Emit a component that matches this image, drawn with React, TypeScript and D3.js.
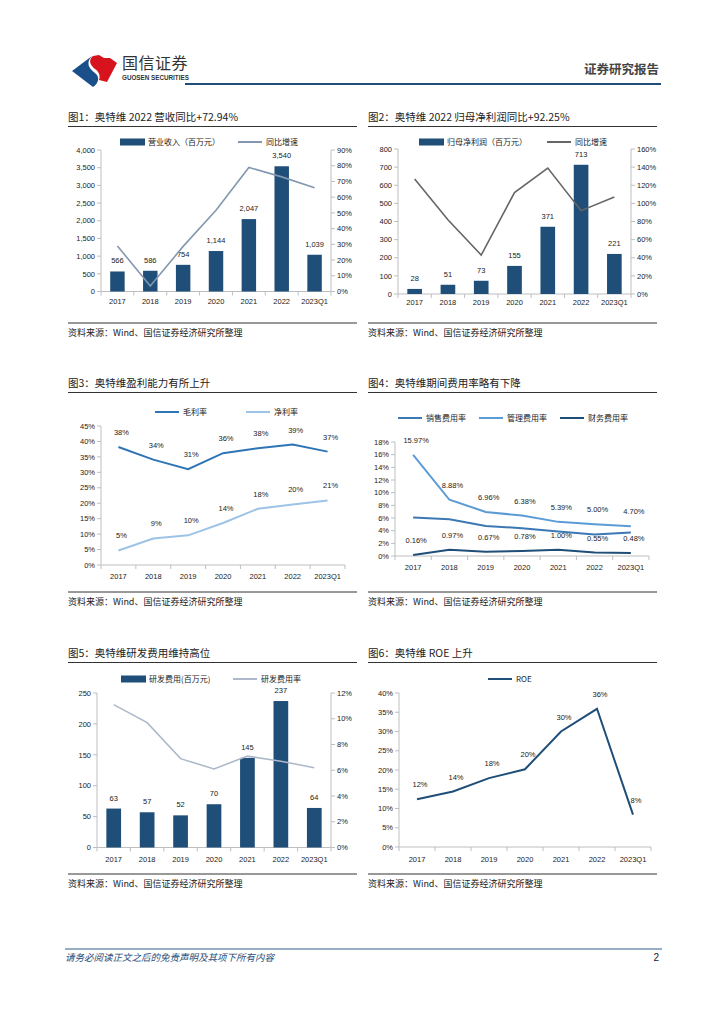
import { useEffect } from "react";
import * as d3 from "d3";

// categories and values
const years = ["2017", "2018", "2019", "2020", "2021", "2022", "2023Q1"];

const revenue = [566, 586, 754, 1144, 2047, 3540, 1039];
const revenueYoY = [29, 3.5, 28.7, 51.7, 78.9, 72.9, 66];

const netProfit = [28, 51, 73, 155, 371, 713, 221];
const netProfitYoY = [127, 82, 43, 112, 139, 92, 107];

const grossMargin = [38.2, 34.1, 31.0, 36.2, 37.8, 39.0, 36.7];
const netMargin = [4.7, 8.6, 9.6, 13.6, 18.2, 19.6, 20.9];

const salesRate = [6.07, 5.8, 4.73, 4.4, 3.87, 3.4, 3.7];
const mgmtRate = [15.97, 8.88, 6.96, 6.38, 5.39, 5.0, 4.7];
const finRate = [0.16, 0.97, 0.67, 0.78, 1.0, 0.55, 0.48];

const rdExpense = [63, 57, 52, 70, 145, 237, 64];
const rdRate = [11.1, 9.7, 6.9, 6.1, 7.1, 6.7, 6.2];

const roe = [12.4, 14.4, 17.9, 20.2, 30.0, 35.9, 8.4];

const FONT = "'Liberation Sans','Noto Sans CJK SC',sans-serif";
const CJK = "'Noto Sans CJK SC',sans-serif";
const AXIS = "#BFBFBF";
const INK = "#222";
const NAVY = "#1F4E79";

type Box = { x0: number; x1: number; y0: number; y1: number };

const pct0 = (v: number) => d3.format(".0f")(v) + "%";
const pct2 = (v: number) => d3.format(".2f")(v) + "%";

function Title({ x, y, w, text }: { x: number; y: number; w: number; text: string }) {
  return (
    <g>
      <text x={x} y={y} fontSize={10.5} fontFamily={CJK} fill={INK}>
        {text}
      </text>
      <line x1={x} x2={x + w} y1={y + 5.5} y2={y + 5.5} stroke="#333" strokeWidth={1} />
    </g>
  );
}

function Source({ x, y, w }: { x: number; y: number; w: number }) {
  return (
    <g>
      <line x1={x} x2={x + w} y1={y} y2={y} stroke="#333" strokeWidth={1} />
      <text x={x} y={y + 13} fontSize={9} fontFamily={CJK} fill={INK}>
        资料来源：Wind、国信证券经济研究所整理
      </text>
    </g>
  );
}

function XAxis({ box, x, labelY }: { box: Box; x: d3.ScaleBand<string>; labelY: number }) {
  const edges = [...x.domain().map((c) => x(c) as number), box.x1];
  return (
    <g>
      <line x1={box.x0} x2={box.x1} y1={box.y1} y2={box.y1} stroke={AXIS} />
      {edges.map((e, i) => (
        <line key={i} x1={e} x2={e} y1={box.y1} y2={box.y1 + 4} stroke={AXIS} />
      ))}
      {x.domain().map((c) => (
        <text
          key={c}
          x={(x(c) as number) + x.bandwidth() / 2}
          y={labelY + 3}
          fontSize={7.5}
          fontFamily={FONT}
          textAnchor="middle"
          fill={INK}
        >
          {c}
        </text>
      ))}
    </g>
  );
}

function YAxis({
  box,
  y,
  ticks,
  fmt,
  side,
}: {
  box: Box;
  y: d3.ScaleLinear<number, number>;
  ticks: number[];
  fmt: (v: number) => string;
  side: "left" | "right";
}) {
  const ax = side === "left" ? box.x0 : box.x1;
  const dir = side === "left" ? -1 : 1;
  return (
    <g>
      <line x1={ax} x2={ax} y1={box.y0} y2={box.y1} stroke={AXIS} />
      {ticks.map((t) => (
        <g key={t}>
          <line x1={ax} x2={ax + dir * 4} y1={y(t)} y2={y(t)} stroke={AXIS} />
          <text
            x={ax + dir * 6}
            y={y(t) + 2.7}
            fontSize={7.5}
            fontFamily={FONT}
            textAnchor={side === "left" ? "end" : "start"}
            fill={INK}
          >
            {fmt(t)}
          </text>
        </g>
      ))}
    </g>
  );
}

type LegendItem = { kind: "bar" | "line"; x: number; label: string; color: string };

function Legend({ y, items }: { y: number; items: LegendItem[] }) {
  return (
    <g>
      {items.map((it) => (
        <g key={it.label}>
          {it.kind === "bar" ? (
            <rect x={it.x} y={y - 3.5} width={25} height={7} fill={it.color} />
          ) : (
            <line x1={it.x} x2={it.x + 24} y1={y} y2={y} stroke={it.color} strokeWidth={2} />
          )}
          <text x={it.x + 28} y={y + 3} fontSize={8} fontFamily={CJK} fill={INK}>
            {it.label}
          </text>
        </g>
      ))}
    </g>
  );
}

function Combo({
  box,
  bars,
  barColor,
  barFmt,
  leftMax,
  leftStep,
  leftFmt,
  line,
  lineColor,
  rightMax,
  rightStep,
  legendY,
  legend,
  labelY,
}: {
  box: Box;
  bars: number[];
  barColor: string;
  barFmt: (v: number) => string;
  leftMax: number;
  leftStep: number;
  leftFmt: (v: number) => string;
  line: number[];
  lineColor: string;
  rightMax: number;
  rightStep: number;
  legendY: number;
  legend: LegendItem[];
  labelY: number;
}) {
  const x = d3.scaleBand<string>().domain(years).range([box.x0, box.x1]).padding(0);
  const yl = d3.scaleLinear().domain([0, leftMax]).range([box.y1, box.y0]);
  const yr = d3.scaleLinear().domain([0, rightMax]).range([box.y1, box.y0]);
  const bw = x.bandwidth() * 0.44;
  const cx = (i: number) => (x(years[i]) as number) + x.bandwidth() / 2;
  const path = d3
    .line<number>()
    .x((_, i) => cx(i))
    .y((d) => yr(d))(line);
  return (
    <g>
      <Legend y={legendY} items={legend} />
      <YAxis box={box} y={yl} ticks={d3.range(0, leftMax + 1e-9, leftStep)} fmt={leftFmt} side="left" />
      <YAxis box={box} y={yr} ticks={d3.range(0, rightMax + 1e-9, rightStep)} fmt={pct0} side="right" />
      <XAxis box={box} x={x} labelY={labelY} />
      {bars.map((v, i) => (
        <g key={i}>
          <rect x={cx(i) - bw / 2} y={yl(v)} width={bw} height={box.y1 - yl(v)} fill={barColor} />
          <text x={cx(i)} y={yl(v) - 8} fontSize={7.5} fontFamily={FONT} textAnchor="middle" fill={INK}>
            {barFmt(v)}
          </text>
        </g>
      ))}
      <path d={path ?? ""} fill="none" stroke={lineColor} strokeWidth={1.6} />
    </g>
  );
}

type Series = { values: number[]; color: string; fmt?: (v: number) => string };

function Lines({
  box,
  series,
  yMax,
  yStep,
  legendY,
  legend,
  labelY,
}: {
  box: Box;
  series: Series[];
  yMax: number;
  yStep: number;
  legendY: number;
  legend: LegendItem[];
  labelY: number;
}) {
  const x = d3.scaleBand<string>().domain(years).range([box.x0, box.x1]).padding(0);
  const y = d3.scaleLinear().domain([0, yMax]).range([box.y1, box.y0]);
  const cx = (i: number) => (x(years[i]) as number) + x.bandwidth() / 2;
  const gen = d3
    .line<number>()
    .x((_, i) => cx(i))
    .y((d) => y(d));
  return (
    <g>
      <Legend y={legendY} items={legend} />
      <YAxis box={box} y={y} ticks={d3.range(0, yMax + 1e-9, yStep)} fmt={pct0} side="left" />
      <XAxis box={box} x={x} labelY={labelY} />
      {series.map((s, k) => (
        <g key={k}>
          <path d={gen(s.values) ?? ""} fill="none" stroke={s.color} strokeWidth={2} />
          {s.fmt &&
            s.values.map((v, i) => (
              <text
                key={i}
                x={cx(i) + 3}
                y={y(v) - 12}
                fontSize={7.5}
                fontFamily={FONT}
                textAnchor="middle"
                fill={INK}
              >
                {s.fmt!(v)}
              </text>
            ))}
        </g>
      ))}
    </g>
  );
}

function Header() {
  return (
    <g>
      <path d="M72,71 L92,56 C86,62 88,68 95,73 C100,77 99,83 93,87 Z" fill="#1B4F8A" />
      <path
        d="M93,56 L99,55 L104,58 L110,58 L117,63 L107,82 L99,80 C101,75 98,71 95,69 C90,65 88,60 93,56 Z"
        fill="#D7141D"
      />
      <text x={122} y={69} fontSize={16} fontFamily={CJK} fill="#333" letterSpacing={0.5}>
        国信证券
      </text>
      <text x={122} y={80} fontSize={6.3} fontFamily={FONT} fontWeight="bold" fill="#333">
        GUOSEN SECURITIES
      </text>
      <text x={659} y={74} fontSize={12.5} fontFamily={CJK} fontWeight="bold" fill="#444" textAnchor="end">
        证券研究报告
      </text>
      <line x1={185} x2={661} y1={84} y2={84} stroke={NAVY} strokeWidth={2} />
    </g>
  );
}

function Footer() {
  return (
    <g>
      <line x1={65} x2={662} y1={949} y2={949} stroke="#2E5F8A" strokeWidth={1} />
      <text x={65} y={961} fontSize={9.5} fontFamily={CJK} fontStyle="italic" fill={NAVY}>
        请务必阅读正文之后的免责声明及其项下所有内容
      </text>
      <text x={659} y={961} fontSize={10} fontFamily={FONT} fill="#222" textAnchor="end">
        2
      </text>
    </g>
  );
}

export default function App() {
  useEffect(() => {
    document.body.style.margin = "0";
  }, []);

  return (
    <svg width={724} height={1024} style={{ display: "block", background: "#fff" }}>
      <Header />

      <Title x={68} y={121} w={289} text="图1：奥特维 2022 营收同比+72.94%" />
      <Combo
        box={{ x0: 101, x1: 331, y0: 150, y1: 291.5 }}
        bars={revenue}
        barColor={NAVY}
        barFmt={d3.format(",")}
        leftMax={4000}
        leftStep={500}
        leftFmt={d3.format(",")}
        line={revenueYoY}
        lineColor="#8497B0"
        rightMax={90}
        rightStep={10}
        legendY={142}
        legend={[
          { kind: "bar", x: 120, label: "营业收入（百万元）", color: NAVY },
          { kind: "line", x: 238, label: "同比增速", color: "#8497B0" },
        ]}
        labelY={301}
      />
      <Source x={68} y={323} w={289} />

      <Title x={368} y={121} w={289} text="图2：奥特维 2022 归母净利润同比+92.25%" />
      <Combo
        box={{ x0: 398, x1: 631, y0: 149, y1: 294 }}
        bars={netProfit}
        barColor={NAVY}
        barFmt={d3.format("d")}
        leftMax={800}
        leftStep={100}
        leftFmt={d3.format("d")}
        line={netProfitYoY}
        lineColor="#666666"
        rightMax={160}
        rightStep={20}
        legendY={142}
        legend={[
          { kind: "bar", x: 419, label: "归母净利润（百万元）", color: NAVY },
          { kind: "line", x: 547, label: "同比增速", color: "#666666" },
        ]}
        labelY={302}
      />
      <Source x={368} y={323} w={289} />

      <Title x={68} y={387} w={289} text="图3：奥特维盈利能力有所上升" />
      <Lines
        box={{ x0: 101, x1: 345, y0: 426, y1: 565 }}
        series={[
          { values: grossMargin, color: "#2E75B6", fmt: pct0 },
          { values: netMargin, color: "#9DC3E6", fmt: pct0 },
        ]}
        yMax={45}
        yStep={5}
        legendY={412}
        legend={[
          { kind: "line", x: 155, label: "毛利率", color: "#2E75B6" },
          { kind: "line", x: 246, label: "净利率", color: "#9DC3E6" },
        ]}
        labelY={576}
      />
      <Source x={68} y={592} w={289} />

      <Title x={368} y={387} w={289} text="图4：奥特维期间费用率略有下降" />
      <Lines
        box={{ x0: 395, x1: 649, y0: 442, y1: 556 }}
        series={[
          { values: salesRate, color: "#3B78B4" },
          { values: mgmtRate, color: "#5B9BD5", fmt: pct2 },
          { values: finRate, color: NAVY, fmt: pct2 },
        ]}
        yMax={18}
        yStep={2}
        legendY={418}
        legend={[
          { kind: "line", x: 398, label: "销售费用率", color: "#3B78B4" },
          { kind: "line", x: 479, label: "管理费用率", color: "#5B9BD5" },
          { kind: "line", x: 560, label: "财务费用率", color: NAVY },
        ]}
        labelY={567}
      />
      <Source x={368} y={592} w={289} />

      <Title x={68} y={657} w={289} text="图5：奥特维研发费用维持高位" />
      <Combo
        box={{ x0: 97, x1: 331, y0: 693, y1: 847.5 }}
        bars={rdExpense}
        barColor={NAVY}
        barFmt={d3.format("d")}
        leftMax={250}
        leftStep={50}
        leftFmt={d3.format("d")}
        line={rdRate}
        lineColor="#ADB9CA"
        rightMax={12}
        rightStep={2}
        legendY={679}
        legend={[
          { kind: "bar", x: 121, label: "研发费用(百万元)", color: NAVY },
          { kind: "line", x: 233, label: "研发费用率", color: "#ADB9CA" },
        ]}
        labelY={859}
      />
      <Source x={68} y={874} w={289} />

      <Title x={368} y={657} w={289} text="图6：奥特维 ROE 上升" />
      <Lines
        box={{ x0: 399, x1: 651, y0: 693, y1: 847 }}
        series={[{ values: roe, color: NAVY, fmt: pct0 }]}
        yMax={40}
        yStep={5}
        legendY={679}
        legend={[{ kind: "line", x: 488, label: "ROE", color: NAVY }]}
        labelY={859}
      />
      <Source x={368} y={874} w={289} />

      <Footer />
    </svg>
  );
}
